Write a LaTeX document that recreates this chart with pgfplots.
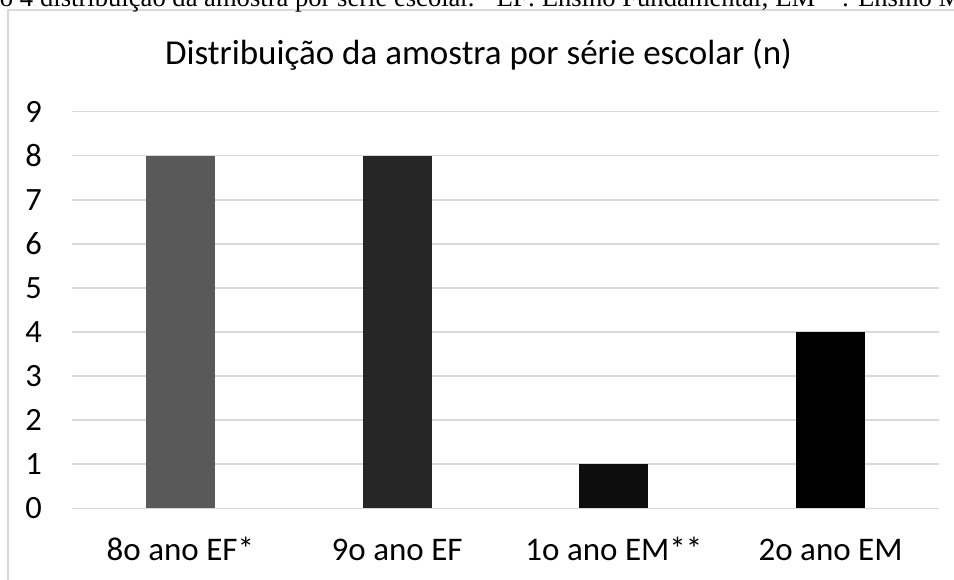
\documentclass[border=0pt]{standalone}
\usepackage{pgfplots}
\pgfplotsset{compat=1.18}
\usepackage{fontspec}
\setmainfont{Carlito}
\newfontfamily\capfont{Liberation Serif}
\definecolor{gridgray}{HTML}{D9D9D9}
\definecolor{barA}{HTML}{595959}
\definecolor{barB}{HTML}{262626}
\definecolor{barC}{HTML}{0D0D0D}
\definecolor{barD}{HTML}{000000}
\begin{document}
\begin{tikzpicture}
% frame
\draw[gridgray, line width=1.5pt] (8pt,-20pt) -- (8pt,569pt) -- (1000pt,569pt);
% cropped caption line at top
\node[anchor=base west, inner sep=0pt, font=\capfont\fontsize{26.6pt}{30pt}\selectfont] at (40pt,572.5pt) {distribuição da amostra por série escolar. *EF: Ensino Fundamental; EM**: Ensino Médio};
\node[anchor=base east, inner sep=0pt, font=\capfont\fontsize{26.6pt}{30pt}\selectfont] at (33.35pt,572.5pt) {Ilustração 4};
% title
\node[anchor=base, inner sep=0pt, font=\fontsize{35pt}{40pt}\selectfont] at (478.5pt,514pt) {Distribuição da amostra por série escolar (n)};
\begin{axis}[
  at={(72pt,70.7pt)}, anchor=south west,
  scale only axis, width=867pt, height=396.7pt,
  xmin=-0.5, xmax=3.5, ymin=0, ymax=9,
  ytick={0,1,...,9},
  xtick={0,1,2,3},
  xticklabels={8o ano EF*, 9o ano EF, 1o ano EM**, 2o ano EM},
  ymajorgrids,
  grid style={gridgray, line width=1.5pt},
  axis line style={draw=none},
  major tick length=0pt,
  tick style={draw=none},
  /pgf/number format/assume math mode=true,
  yticklabel style={anchor=east, inner sep=0pt, xshift=-30pt, font=\fontsize{32.5pt}{36pt}\selectfont},
  xticklabel style={anchor=base, inner sep=0pt, yshift=-52.4pt, font=\fontsize{33pt}{38pt}\selectfont},
  ybar, bar width=69pt, bar shift=0pt,
  clip=false,
]
\addplot[fill=barA, draw=none] coordinates {(0,8)};
\addplot[fill=barB, draw=none] coordinates {(1,8)};
\addplot[fill=barC, draw=none] coordinates {(2,1)};
\addplot[fill=barD, draw=none] coordinates {(3,4)};
\end{axis}
\pgfresetboundingbox
\useasboundingbox (0pt,0pt) rectangle (954pt,579pt);
\end{tikzpicture}
\end{document}
